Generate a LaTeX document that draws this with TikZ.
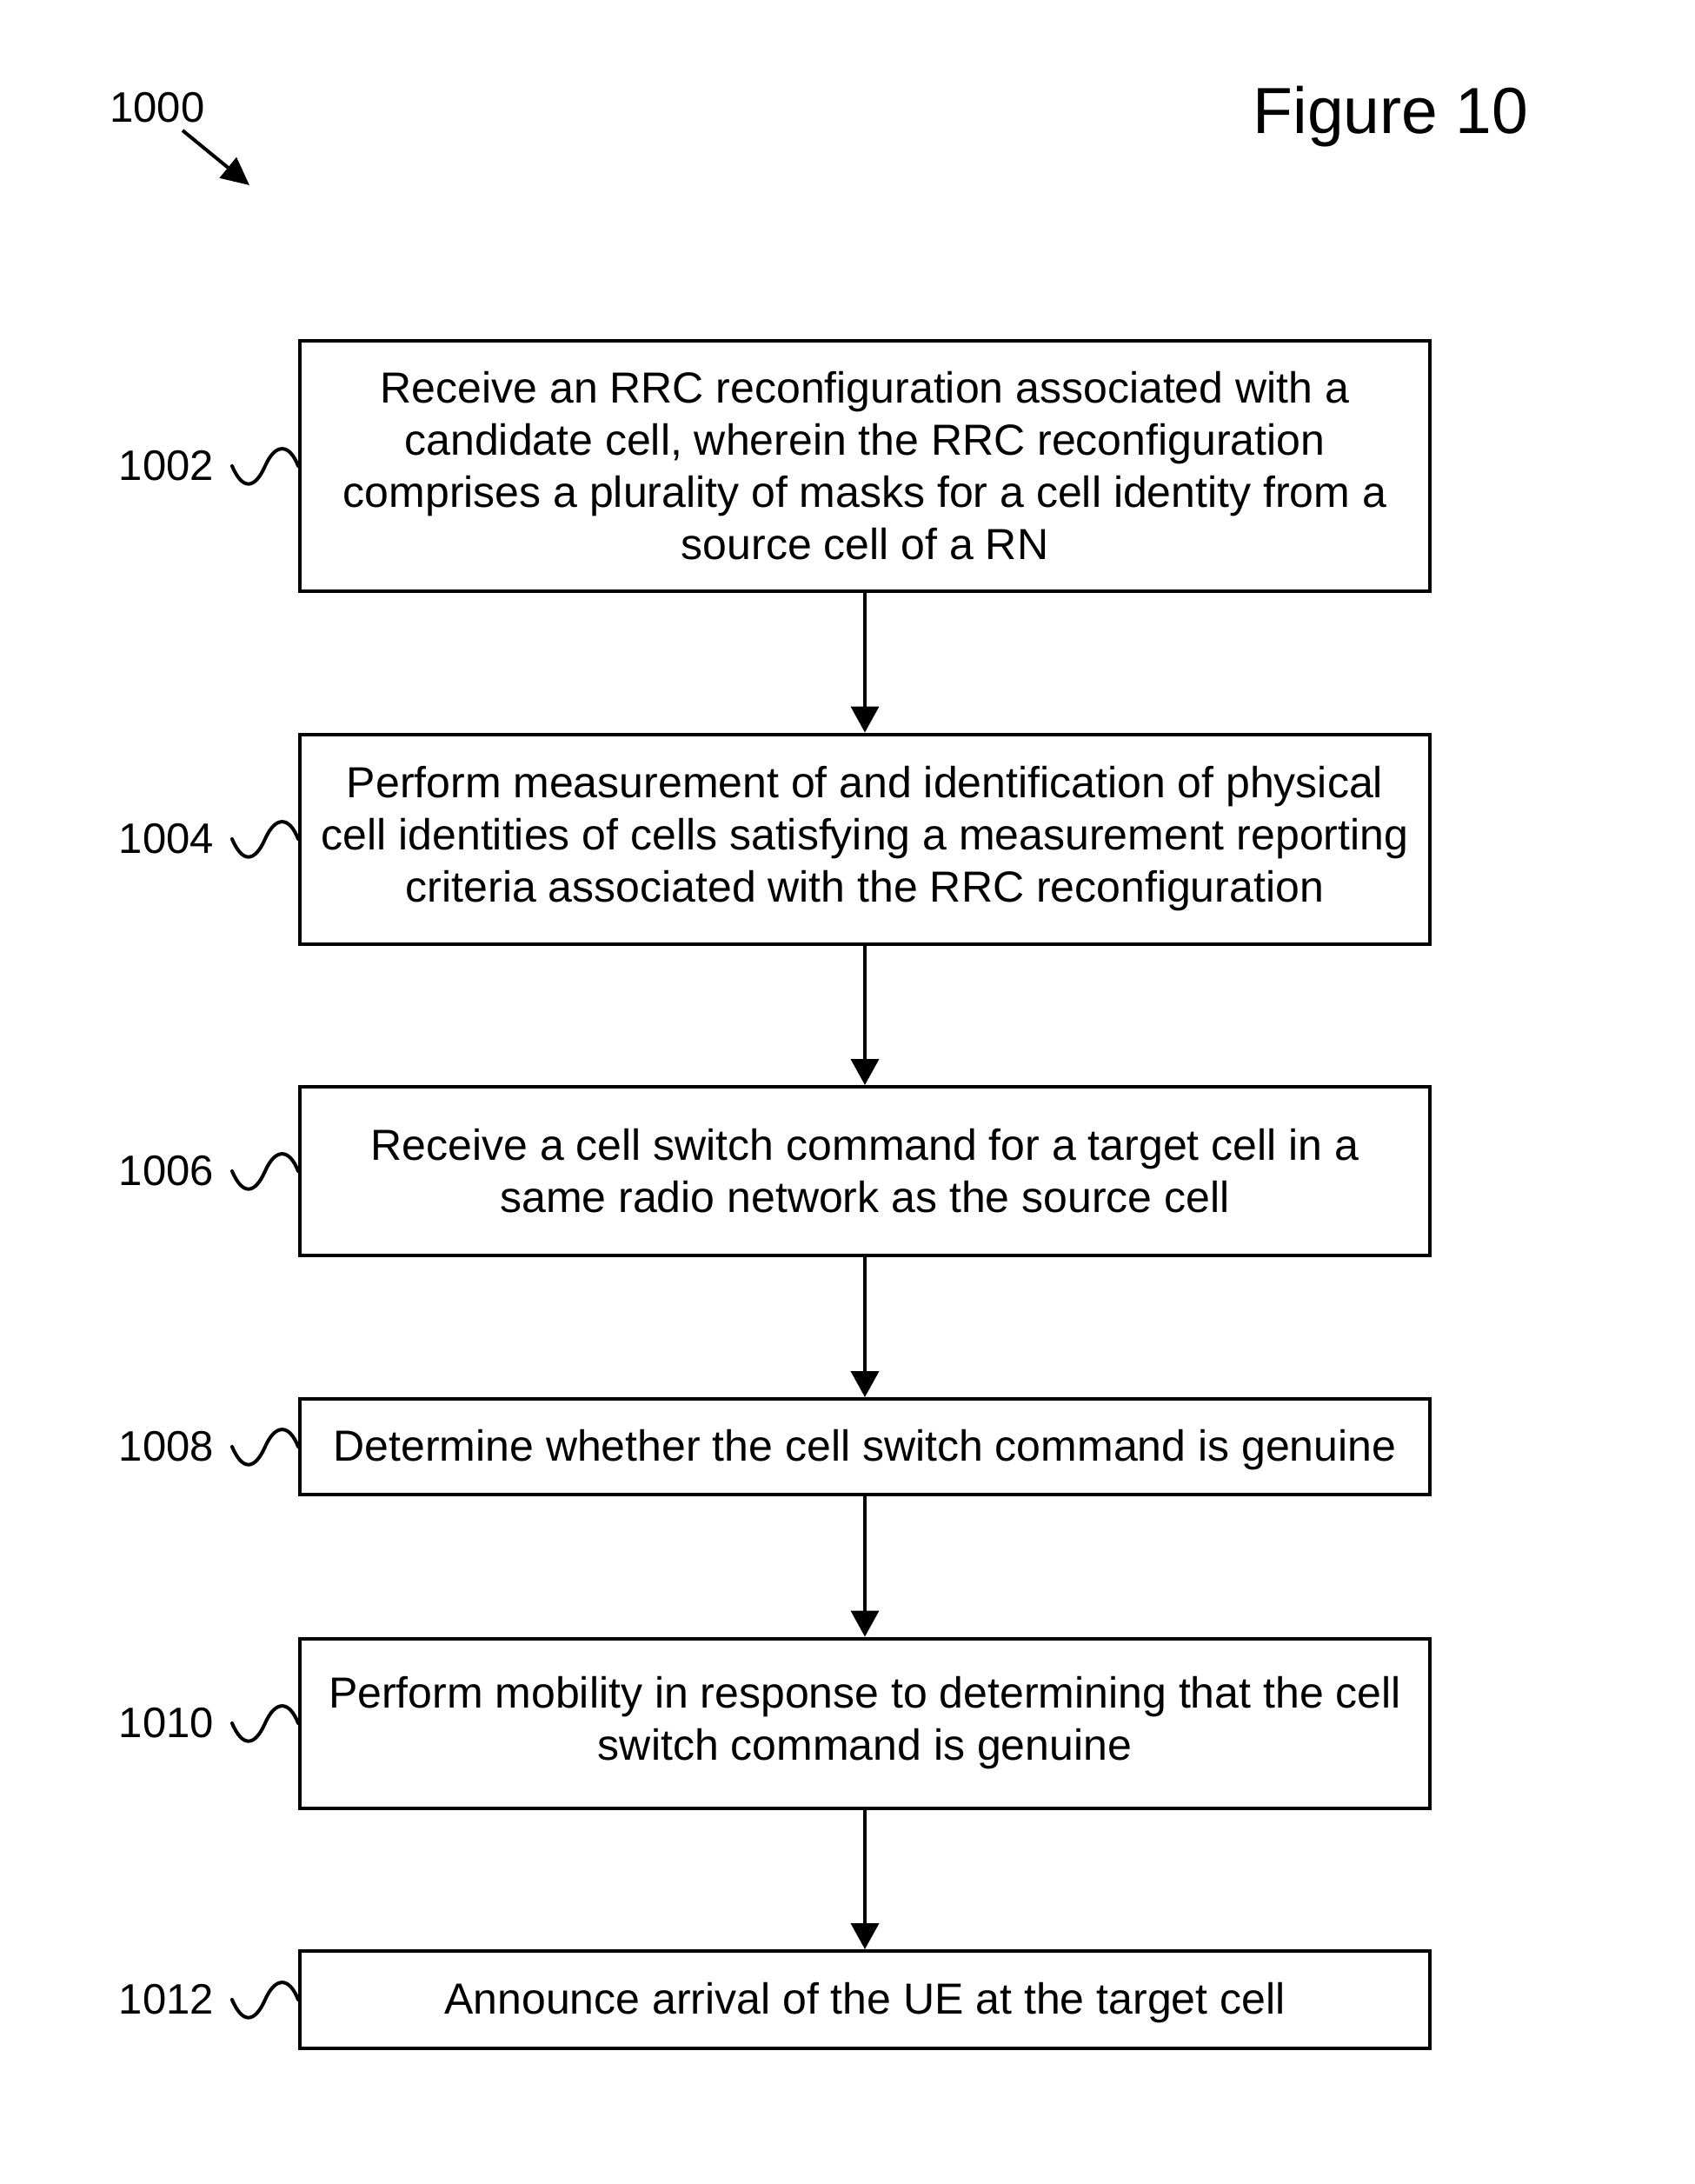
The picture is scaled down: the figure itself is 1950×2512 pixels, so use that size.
\documentclass[tikz,border=0pt]{standalone}
\usepackage{fontspec}
\setmainfont{Liberation Sans}
\usetikzlibrary{arrows.meta}
\begin{document}
\begin{tikzpicture}[x=1pt,y=-1pt,
  stepbox/.style={draw,line width=4pt,minimum width=1300pt,align=center,
    inner sep=0pt,font=\fontsize{50}{60}\selectfont},
  reflabel/.style={anchor=east,inner sep=0pt,font=\fontsize{49}{60}\selectfont},
  flow/.style={line width=4pt,-{Triangle[width=32pt,length=30pt]}},
  squig/.style={line width=4pt,line cap=round}]
\useasboundingbox (0,0) rectangle (1950,2512);

% title and figure reference
\node[inner sep=0pt,font=\fontsize{75}{90}\selectfont] (fig) at (1600,134) {Figure 10};
\node[inner sep=0pt,font=\fontsize{49}{58}\selectfont] (ref) at (181,124) {1000};
\coordinate (refA) at (210,150);
\coordinate (refB) at (287,213);
\draw[line width=4pt,-{Triangle[width=30pt,length=32pt]}] (refA) -- (refB);

% process steps
\node[stepbox,minimum height=288pt] (s1) at (995,536)
  {Receive an RRC reconfiguration associated with a\\
   candidate cell, wherein the RRC reconfiguration\\
   comprises a plurality of masks for a cell identity from a\\
   source cell of a RN};
\node[stepbox,minimum height=241pt] (s2) at (995,965)
  {Perform measurement of and identification of physical\\
   cell identities of cells satisfying a measurement reporting\\
   criteria associated with the RRC reconfiguration};
\node[stepbox,minimum height=194pt] (s3) at (995,1347)
  {Receive a cell switch command for a target cell in a\\
   same radio network as the source cell};
\node[stepbox,minimum height=110pt,text depth=3pt] (s4) at (995,1664)
  {Determine whether the cell switch command is genuine};
\node[stepbox,minimum height=195pt] (s5) at (995,1982)
  {Perform mobility in response to determining that the cell\\
   switch command is genuine};
\node[stepbox,minimum height=112pt,text depth=3pt] (s6) at (995,2300)
  {Announce arrival of the UE at the target cell};

% arrows between steps
\draw[flow] (s1.south) -- (s2.north);
\draw[flow] (s2.south) -- (s3.north);
\draw[flow] (s3.south) -- (s4.north);
\draw[flow] (s4.south) -- (s5.north);
\draw[flow] (s5.south) -- (s6.north);

% reference numerals with wavy leaders (dips first, then rises into the box)
\foreach \n/\lab in {s1/1002,s2/1004,s3/1006,s4/1008,s5/1010,s6/1012}{
  \path (\n.west) ++(-76pt,0) coordinate (\n-w0);
  \node[reflabel] (\n-lab) at ([xshift=-21pt]\n-w0) {\lab};
  \draw[squig] (\n-w0) .. controls +(12pt,-28pt) and +(-12pt,-27pt) .. ++(38pt,0)
                        .. controls +(12pt,27pt) and +(-10pt,26pt) .. (\n.west);
}
\end{tikzpicture}
\end{document}
